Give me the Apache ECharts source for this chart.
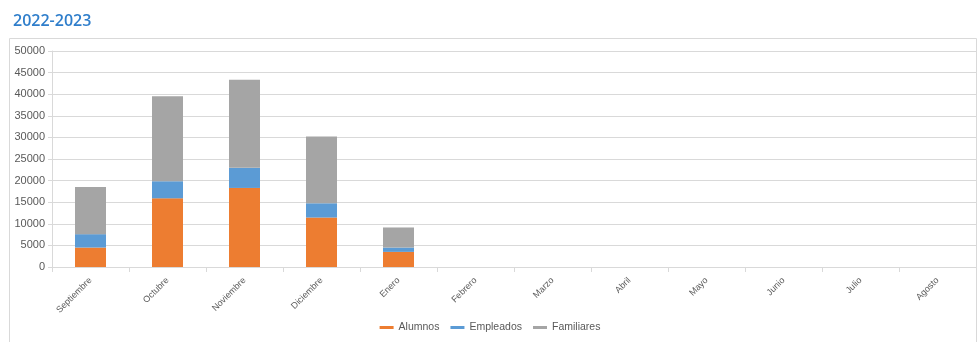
<!DOCTYPE html>
<html><head><meta charset="utf-8">
<script src="https://cdn.jsdelivr.net/npm/echarts@6/dist/echarts.min.js"></script>
<style>html,body{margin:0;padding:0;background:#fff}#c{width:980px;height:342px}</style>
</head><body><div id="c"></div>
<script>
const categories = ['Septiembre','Octubre','Noviembre','Diciembre','Enero','Febrero','Marzo','Abril','Mayo','Junio','Julio','Agosto'];
const alumnos    = [4500, 15900, 18300, 11450, 3500, null, null, null, null, null, null, null];
const empleados  = [3100, 3950, 4650, 3300, 1000, null, null, null, null, null, null, null];
const familiares = [10900, 19700, 20400, 15450, 4650, null, null, null, null, null, null, null];
const yTicks = [0, 50000, 5000];
const titleText = '2022-2023';

const chart = echarts.init(document.getElementById('c'), null, {renderer:'canvas'});
const mk = (name, data, color) => ({name, type:'bar', stack:'t', data, barWidth:31,
  itemStyle:{color}, emphasis:{disabled:true}});
chart.setOption({
  animation:false,
  title:{text:titleText, left:8, top:8, textStyle:{color:'#2f7ecb', fontSize:16, fontWeight:600, fontFamily:'Open Sans'}},
  graphic:[{type:'rect', shape:{x:9.5, y:38.5, width:967, height:310}, style:{fill:null, stroke:'#d9d9d9', lineWidth:1}, silent:true}],
  grid:{left:52, right:4, top:51, bottom:75},
  legend:{bottom:4, left:'center', icon:'rect', itemWidth:14, itemHeight:3, itemGap:11,
    textStyle:{color:'#595959', fontSize:10.5, fontFamily:'Liberation Sans'}},
  xAxis:{type:'category', data:categories,
    axisLine:{lineStyle:{color:'#d9d9d9'}}, axisTick:{show:true, lineStyle:{color:'#d9d9d9'}},
    axisLabel:{rotate:45, color:'#595959', fontSize:9, fontFamily:'Liberation Sans', interval:0, margin:12}},
  yAxis:{type:'value', min:yTicks[0], max:yTicks[1], interval:yTicks[2],
    axisLine:{show:true, lineStyle:{color:'#d9d9d9'}}, axisTick:{show:true, length:4, lineStyle:{color:'#d9d9d9'}},
    splitLine:{lineStyle:{color:'#d9d9d9'}},
    axisLabel:{color:'#595959', fontSize:11, fontFamily:'Liberation Sans', margin:7, formatter:v=>String(v)}},
  series:[mk('Alumnos', alumnos, '#ed7d31'), mk('Empleados', empleados, '#5b9bd5'), mk('Familiares', familiares, '#a5a5a5')]
});
</script></body></html>
